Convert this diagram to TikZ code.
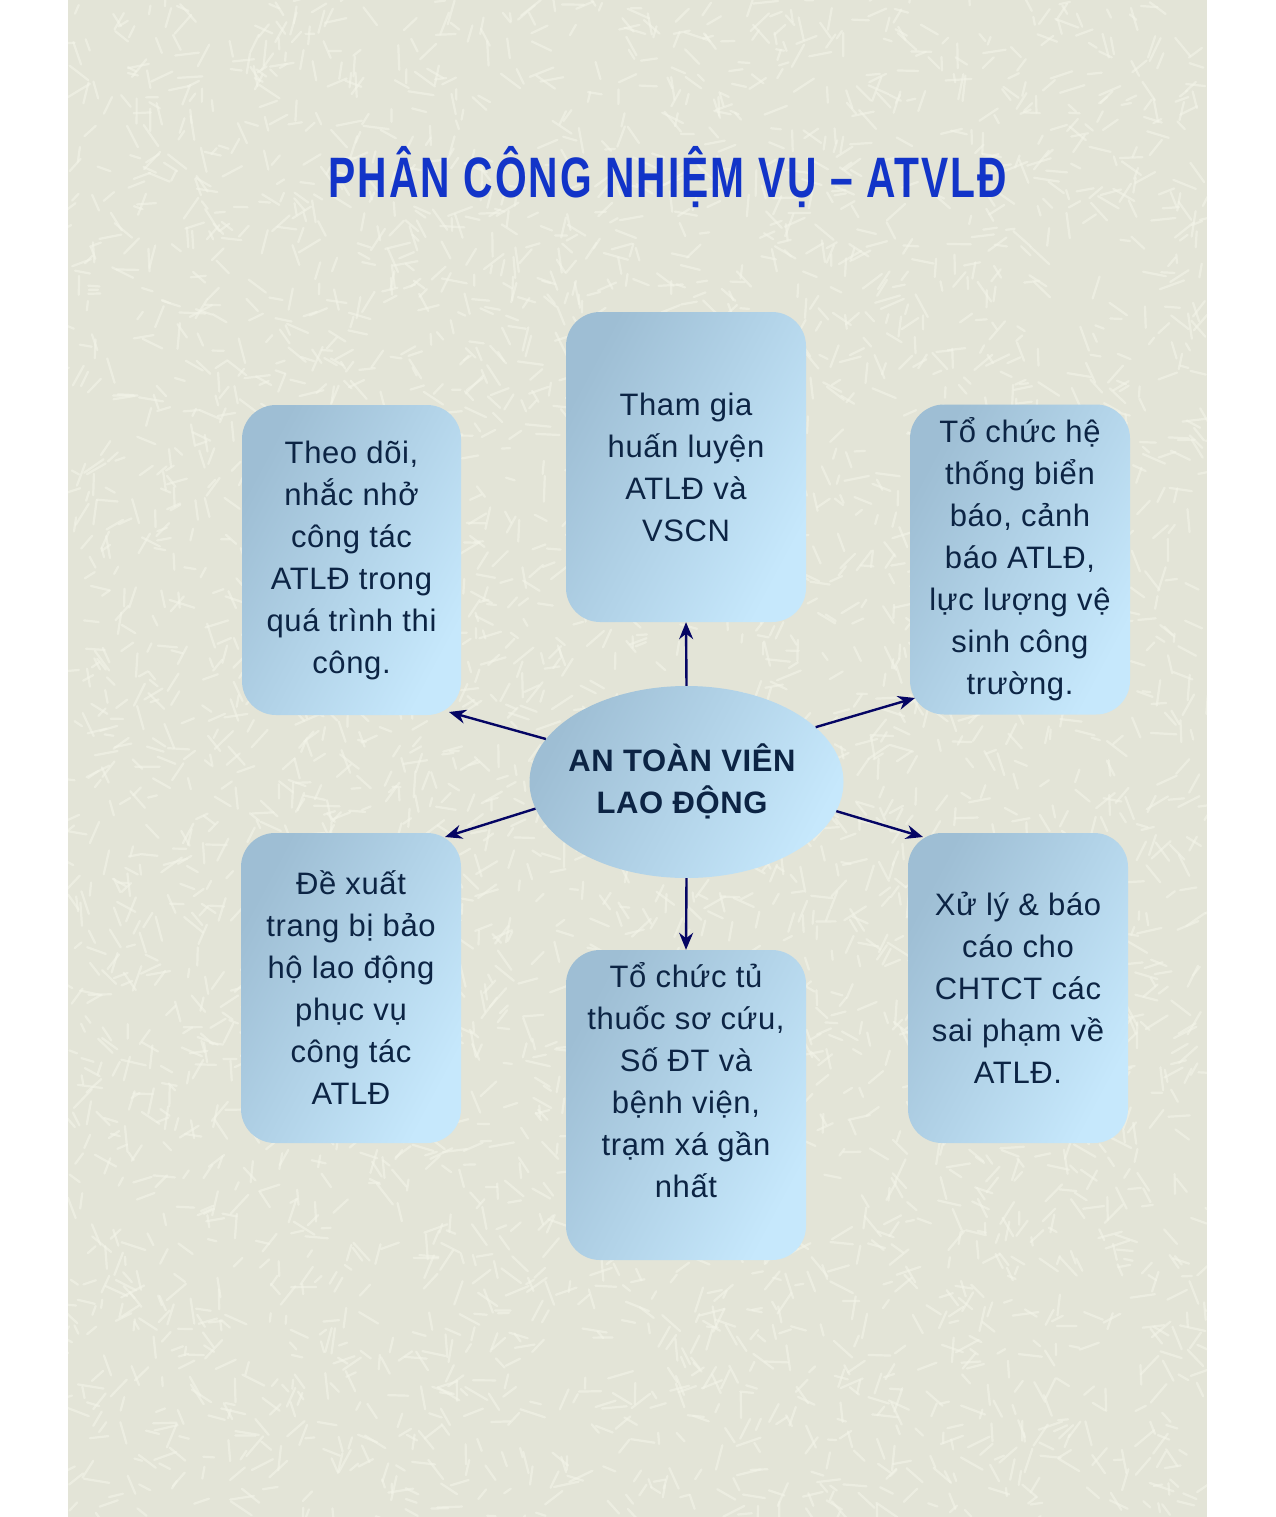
\documentclass[tikz,border=0pt]{standalone}
\usepackage{fontspec}
\setmainfont{Liberation Sans}[LetterSpace=2]
\newfontfamily\titlefont{Liberation Sans}[LetterSpace=5]
\usetikzlibrary{arrows.meta,shapes.geometric}
\definecolor{bgc}{RGB}{227,228,215}
\definecolor{strokec}{RGB}{243,244,233}
\definecolor{boxtop}{RGB}{158,190,212}
\definecolor{boxbot}{RGB}{198,232,252}
\definecolor{txtc}{RGB}{12,36,68}
\definecolor{arrc}{RGB}{5,5,100}
\definecolor{titlec}{RGB}{18,52,200}
\begin{document}
\begin{tikzpicture}[x=1pt,y=-1pt,
  box/.style={rectangle, rounded corners=34pt, draw=none, inner sep=0pt,
    minimum width=220pt, minimum height=310pt,
    top color=boxtop, bottom color=boxbot, shading angle=62},
  centre/.style={ellipse, draw=none, inner sep=0pt,
    minimum width=314pt, minimum height=192pt,
    top color=boxtop, bottom color=boxbot, shading angle=62},
  txt/.style={align=center, text=txtc, font=\fontsize{31}{42}\selectfont},
  arr/.style={draw=arrc, line width=2.4pt, -{Stealth[length=17pt,width=14pt]}},
  texture/.style={draw=strokec, line width=2.2pt, line cap=round, opacity=0.6}]
\useasboundingbox (0,0) rectangle (1275,1517);
\fill[white] (0,0) rectangle (1275,1517);
\fill[bgc] (68,0) rectangle (1207,1517);
\begin{scope}
  \clip (68,0) rectangle (1207,1517);
  \pgfmathsetseed{11}
  \foreach \i in {1,...,4200} {
    \pgfmathsetmacro\px{68+rnd*1139}
    \pgfmathsetmacro\py{rnd*1517}
    \pgfmathsetmacro\pa{rnd*360}
    \pgfmathsetmacro\pl{8+rnd*18}
    \draw[texture] (\px,\py) -- ++(\pa:\pl);
  }
\end{scope}

\node[anchor=base, text=titlec, xscale=0.715, font=\titlefont\bfseries\fontsize{57}{60}\selectfont] (title) at (668,197) {PHÂN CÔNG NHIỆM VỤ – ATVLĐ};

\node[box, minimum width=240pt] (top) at (686,467) {};
\node[box, minimum width=219pt] (tl) at (351.5,560) {};
\node[box] (tr) at (1020,559.5) {};
\node[box] (bl) at (351,988) {};
\node[box, minimum width=240pt] (bc) at (686,1105) {};
\node[box] (br) at (1018,988) {};
\node[centre] (c) at (686.5,782) {};

\node[txt] (toptxt) at (686,467) {Tham gia\\huấn luyện\\ATLĐ và\\VSCN};
\node[txt] (tltxt) at (351.5,560) {Theo dõi,\\nhắc nhở\\công tác\\ATLĐ trong\\quá trình thi\\công.};
\node[txt] (trtxt) at (1020,559.5) {Tổ chức hệ\\thống biển\\báo, cảnh\\báo ATLĐ,\\lực lượng vệ\\sinh công\\trường.};
\node[txt] (bltxt) at (351,988) {Đề xuất\\trang bị bảo\\hộ lao động\\phục vụ\\công tác\\ATLĐ};
\node[txt] (bctxt) at (686,1080) {Tổ chức tủ\\thuốc sơ cứu,\\Số ĐT và\\bệnh viện,\\trạm xá gần\\nhất};
\node[txt] (brtxt) at (1018,988) {Xử lý \& báo\\cáo cho\\CHTCT các\\sai phạm về\\ATLĐ.};
\node[txt, font=\bfseries\fontsize{31}{42}\selectfont] (ctxt) at (682,781) {AN TOÀN VIÊN\\LAO ĐỘNG};

\coordinate (tlend) at (449,712);
\coordinate (trend) at (915,698);
\coordinate (blend) at (445,837);
\coordinate (brend) at (923,837);

\draw[arr] (c.90) -- (top.south);
\draw[arr] (c.270) -- (bc.north);
\draw[arr] (c.163) -- (tlend);
\draw[arr] (c.23) -- (trend);
\draw[arr] (c.190) -- (blend);
\draw[arr] (c.349) -- (brend);
\end{tikzpicture}
\end{document}
